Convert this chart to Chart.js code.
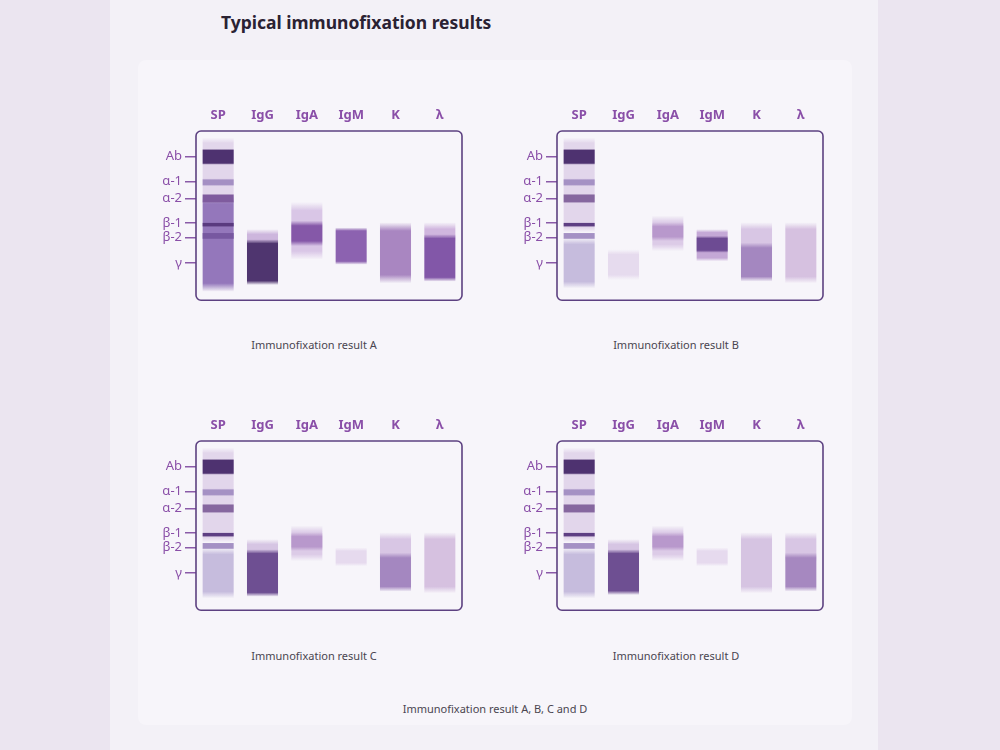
<!DOCTYPE html>
<html><head><meta charset="utf-8">
<script src="https://cdn.jsdelivr.net/npm/chart.js@4"></script>
<style>
body{margin:0;background:#ebe5f0;font-family:"Noto Sans",sans-serif;width:1000px;height:750px;position:relative;overflow:hidden}
#col{position:absolute;left:110px;top:0;width:768px;height:750px;background:#f3f1f7}
#card{position:absolute;left:138px;top:60px;width:714px;height:665px;background:#f7f5fa;border-radius:8px}
h1{position:absolute;left:221px;top:10px;margin:0;font-size:17.5px;font-weight:700;color:#2a2233}
.box{position:absolute;width:314px;height:216px}
.cap{position:absolute;width:240px;text-align:center;font-size:11px;color:#4a4550}
</style></head><body>
<div id="col"></div><div id="card"></div>
<h1>Typical immunofixation results</h1>
<div class="box" style="left:150px;top:95px"><canvas id="cA"></canvas></div>
<div class="box" style="left:511px;top:95px"><canvas id="cB"></canvas></div>
<div class="box" style="left:150px;top:405px"><canvas id="cC"></canvas></div>
<div class="box" style="left:511px;top:405px"><canvas id="cD"></canvas></div>
<div class="cap" style="left:194px;top:337px">Immunofixation result A</div>
<div class="cap" style="left:556px;top:337px">Immunofixation result B</div>
<div class="cap" style="left:194px;top:648px">Immunofixation result C</div>
<div class="cap" style="left:556px;top:648px">Immunofixation result D</div>
<div class="cap" style="left:375px;top:701px;width:240px">Immunofixation result A, B, C and D</div>
<script>
// lanes (x categories) and migration marks (y ticks, 0 = top of gel, 100 = bottom)
const lanes = ['SP', 'IgG', 'IgA', 'IgM', 'K', 'λ'];
const markValues = [15.2, 29.8, 40, 54.5, 63, 78];
const markLabels = ['Ab', 'α-1', 'α-2', 'β-1', 'β-2', 'γ'];

// bands: [lane, top, bottom, colour, edge softness]
const spHeavy = [
  [0, 4, 40, '#e2d6eb', 3], [0, 38, 95, '#9477bb', 5],
  [0, 10.5, 20, '#4e3270', 1], [0, 28, 32.6, '#a48fc3', 1], [0, 37, 42.7, '#7f5b9e', 1],
  [0, 54, 56.7, '#5a3a7f', 0.6], [0, 60, 64, '#7758a0', 0.6]
];
const spLight = [
  [0, 4, 60, '#e2d6eb', 3], [0, 63, 93, '#c6bcdd', 4],
  [0, 10.5, 20, '#4e3270', 1], [0, 28, 32.6, '#a591c4', 1], [0, 37, 42.7, '#86679f', 1],
  [0, 54, 56.7, '#5e3f83', 0.6], [0, 60, 64, '#a491c4', 0.6]
];
const bandsA = spHeavy.concat([
  [1, 58, 68, '#cdb6dd', 3], [1, 64, 91, '#4f356f', 2.5],
  [2, 42, 76, '#d9c6e6', 5], [2, 53, 68, '#8558a8', 3],
  [3, 57, 79, '#8c62b0', 2],
  [4, 54, 90, '#a986c1', 5],
  [5, 54, 66, '#d0b6de', 4], [5, 61, 89, '#8257a8', 2.5]
]);
const bandsB = spLight.concat([
  [1, 70, 88, '#e6dbee', 3],
  [2, 50, 71, '#dccbe7', 4], [2, 54, 65, '#b898cc', 2.5],
  [3, 58, 77, '#c4a8d6', 2], [3, 62, 72, '#6d4b93', 1.5],
  [4, 54, 72, '#d8c6e4', 4], [4, 66, 89, '#a487c0', 3],
  [5, 54, 90, '#d6c1e0', 4]
]);
const bandsC = spLight.concat([
  [1, 58, 68, '#d6c5e3', 3], [1, 64, 92, '#6e4f92', 2.5],
  [2, 50, 71, '#dccbe7', 4], [2, 54, 65, '#b898cc', 2.5],
  [3, 63, 74, '#e6daee', 2],
  [4, 54, 72, '#d8c6e4', 4], [4, 66, 89, '#a487c0', 3],
  [5, 54, 90, '#d6c1e0', 4]
]);
const bandsD = spLight.concat([
  [1, 58, 68, '#d6c5e3', 3], [1, 64, 91, '#6e4f92', 2.5],
  [2, 50, 71, '#dccbe7', 4], [2, 54, 65, '#b898cc', 2.5],
  [3, 63, 74, '#e6daee', 2],
  [4, 54, 90, '#d6c4e2', 4],
  [5, 54, 72, '#d8c6e4', 4], [5, 66, 89, '#a688c0', 3]
]);

function rgba(hex, a) {
  const n = parseInt(hex.slice(1), 16);
  return `rgba(${n >> 16},${(n >> 8) & 255},${n & 255},${a})`;
}

function bandFill(ctx) {
  const raw = ctx.raw;
  const c = ctx.dataset ? ctx.dataset.color : null;
  if (!Array.isArray(raw) || !c) return 'transparent';
  const y = ctx.chart.scales.y;
  if (!y) return rgba(c, 1);
  const p0 = y.getPixelForValue(raw[0]), p1 = y.getPixelForValue(raw[1]);
  const q = Math.abs(y.getPixelForValue(ctx.dataset.soft) - y.getPixelForValue(0));
  if (!isFinite(p0) || !isFinite(p1) || !isFinite(q) || p0 === p1) return rgba(c, 1);
  const s = Math.min(0.45, q / Math.abs(p1 - p0));
  const g = ctx.chart.ctx.createLinearGradient(0, p0, 0, p1);
  g.addColorStop(0, rgba(c, 0));
  g.addColorStop(s, rgba(c, 1));
  g.addColorStop(1 - s, rgba(c, 1));
  g.addColorStop(1, rgba(c, 0));
  return g;
}

const gelBox = {
  id: 'gelBox',
  afterDraw(chart) {
    const { ctx, chartArea: a } = chart;
    ctx.save();
    ctx.strokeStyle = '#5d4181';
    ctx.lineWidth = 1.6;
    ctx.beginPath();
    ctx.roundRect(a.left, a.top, a.right - a.left, a.bottom - a.top, 5);
    ctx.stroke();
    ctx.restore();
  }
};

function makeGel(id, bands) {
  const datasets = bands.map((b, i) => {
    const data = lanes.map((_, k) => (k === b[0] ? [b[1], b[2]] : null));
    return { data, color: b[3], soft: b[4], order: -i, backgroundColor: bandFill, borderWidth: 0 };
  });
  const chart = new Chart(document.getElementById(id), {
    type: 'bar',
    data: { labels: lanes, datasets },
    options: {
      responsive: true, maintainAspectRatio: false, animation: false,
      layout: { padding: { right: 2, bottom: 2 } },
      datasets: { bar: { grouped: false, categoryPercentage: 1, barPercentage: 0.7 } },
      plugins: { legend: { display: false }, tooltip: { enabled: false } },
      scales: {
        x: {
          position: 'top',
          grid: { display: false, drawTicks: false }, border: { display: false },
          ticks: { color: '#8a4fa8', padding: 8, font: { family: 'Noto Sans', size: 13, weight: 'bold' } },
          afterFit(s) { s.height = 36; }
        },
        y: {
          reverse: true, min: 0, max: 100,
          afterBuildTicks(s) { s.ticks = markValues.map(v => ({ value: v })); },
          grid: { drawOnChartArea: false, tickLength: 11, color: '#8a5aa8', lineWidth: 1.5 },
          border: { display: false },
          ticks: {
            color: '#8a4fa8', padding: 3, font: { family: 'Noto Sans', size: 13 },
            callback: (v) => markLabels[markValues.indexOf(v)]
          },
          afterFit(s) { s.width = 46; }
        }
      }
    },
    plugins: [gelBox]
  });
  chart.update('none');
}

makeGel('cA', bandsA);
makeGel('cB', bandsB);
makeGel('cC', bandsC);
makeGel('cD', bandsD);
</script>
</body></html>
